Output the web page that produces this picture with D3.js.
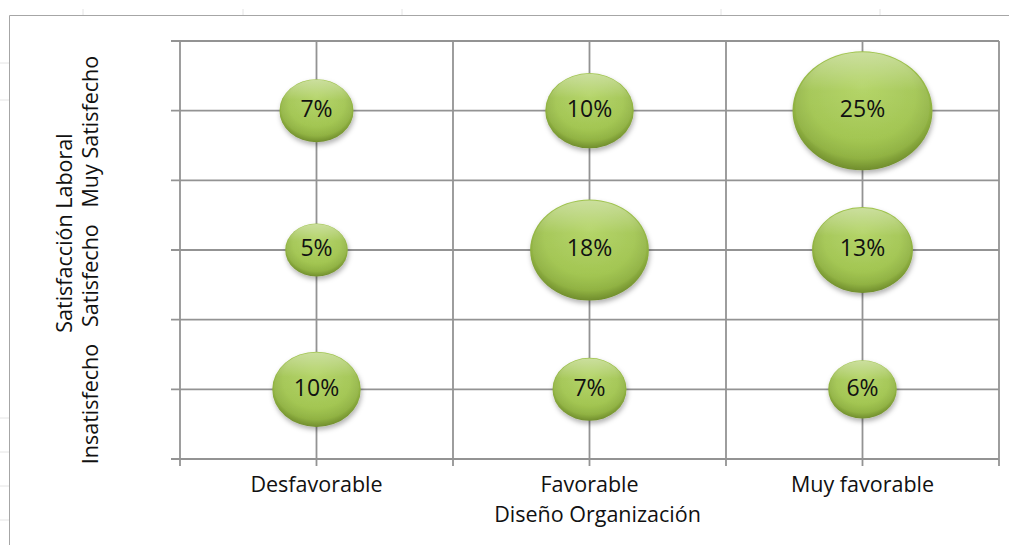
<!DOCTYPE html>
<html>
<head>
<meta charset="utf-8">
<script src="https://cdn.jsdelivr.net/npm/d3@7"></script>
<style>
  body { margin: 0; background: #fff; }
  svg { display: block; font-family: "Open Sans", sans-serif; }
</style>
</head>
<body>
<script>
var w = 1009;
var h = 545;

// categories and percentages (one array per column of the table)
var xCats = ["Desfavorable", "Favorable", "Muy favorable"];
var yCats = ["Insatisfecho", "Satisfecho", "Muy Satisfecho"];
var desfavorable = [10, 5, 7];
var favorable = [7, 18, 10];
var muyFavorable = [6, 13, 25];
var xTitle = "Diseño Organización";
var yTitle = "Satisfacción Laboral";

var columns = [desfavorable, favorable, muyFavorable];
var bubbles = [];
columns.forEach(function(col, i) {
    col.forEach(function(v, j) {
        bubbles.push({x: i + 1, y: j + 1, v: v});
    });
});

var svg = d3.select("body").append("svg")
    .attr("width", w)
    .attr("height", h);

// faint sheet cells behind the chart object
var sheetCols = [83, 243, 402, 721, 880];
var sheetRows = [63, 100, 418, 452, 486, 520];
svg.selectAll(".scol").data(sheetCols).enter().append("line")
    .attr("x1", function(d) { return d; }).attr("x2", function(d) { return d; })
    .attr("y1", 9).attr("y2", 15)
    .attr("stroke", "#e4e4e4");
svg.selectAll(".srow").data(sheetRows).enter().append("line")
    .attr("y1", function(d) { return d; }).attr("y2", function(d) { return d; })
    .attr("x1", 0).attr("x2", 9)
    .attr("stroke", "#e4e4e4");

// chart frame
svg.append("path")
    .attr("d", "M9.5," + h + "V15.5H" + w)
    .attr("fill", "none")
    .attr("stroke", "#a6a6a6");

var x = d3.scaleLinear().domain([0.5, 3.5]).range([180, 999]);
var y = d3.scaleLinear().domain([0.5, 3.5]).range([459, 41]);
var rx = d3.scaleSqrt().domain([0, 25]).range([0, 70]);
var squash = 0.85;

var gridVals = d3.range(0.5, 3.51, 0.5);
var grid = svg.append("g").attr("stroke", "#939393").attr("stroke-width", 1.8);

grid.selectAll(".gx").data(gridVals).enter().append("line")
    .attr("x1", function(d) { return x(d); }).attr("x2", function(d) { return x(d); })
    .attr("y1", y(3.5)).attr("y2", 466);
grid.selectAll(".gy").data(gridVals).enter().append("line")
    .attr("y1", function(d) { return y(d); }).attr("y2", function(d) { return y(d); })
    .attr("x1", 171).attr("x2", x(3.5));

// bubble shading
var defs = svg.append("defs");
var rg = defs.append("radialGradient").attr("id", "ball")
    .attr("cx", "50%").attr("cy", "42%").attr("r", "58%")
    .attr("fx", "50%").attr("fy", "30%");
rg.append("stop").attr("offset", "0%").attr("stop-color", "#aed15c");
rg.append("stop").attr("offset", "65%").attr("stop-color", "#a0c44e");
rg.append("stop").attr("offset", "86%").attr("stop-color", "#90b242");
rg.append("stop").attr("offset", "100%").attr("stop-color", "#708d2d");

var hl = defs.append("linearGradient").attr("id", "shine")
    .attr("x1", 0).attr("y1", 0).attr("x2", 0).attr("y2", 1);
hl.append("stop").attr("offset", "0%").attr("stop-color", "#fff").attr("stop-opacity", 0.45);
hl.append("stop").attr("offset", "35%").attr("stop-color", "#fff").attr("stop-opacity", 0.08);
hl.append("stop").attr("offset", "100%").attr("stop-color", "#fff").attr("stop-opacity", 0);

var sh = defs.append("filter").attr("id", "shadow")
    .attr("x", "-20%").attr("y", "-20%").attr("width", "140%").attr("height", "150%");
sh.append("feDropShadow").attr("dx", 1).attr("dy", 3).attr("stdDeviation", 2.5)
    .attr("flood-color", "#000").attr("flood-opacity", 0.3);

var bg = svg.selectAll(".bubble").data(bubbles).enter().append("g")
    .attr("transform", function(d) { return "translate(" + x(d.x) + "," + y(d.y) + ")"; });

bg.append("ellipse")
    .attr("rx", function(d) { return rx(d.v); })
    .attr("ry", function(d) { return rx(d.v) * squash; })
    .attr("fill", "url(#ball)")
    .attr("filter", "url(#shadow)");

bg.append("ellipse")
    .attr("cy", function(d) { return -rx(d.v) * squash * 0.06; })
    .attr("rx", function(d) { return rx(d.v) * 0.96; })
    .attr("ry", function(d) { return rx(d.v) * squash * 0.92; })
    .attr("fill", "url(#shine)");

bg.append("text")
    .attr("text-anchor", "middle")
    .attr("y", -2)
    .attr("dy", "0.36em")
    .attr("font-size", 23)
    .attr("fill", "#111")
    .text(function(d) { return d.v + "%"; });

// category labels and titles
svg.selectAll(".xl").data(xCats).enter().append("text")
    .attr("x", function(d, i) { return x(i + 1); })
    .attr("y", 492)
    .attr("text-anchor", "middle")
    .attr("font-size", 21.5)
    .attr("fill", "#111")
    .text(function(d) { return d; });

svg.append("text")
    .attr("x", x(2) + 8)
    .attr("y", 522)
    .attr("text-anchor", "middle")
    .attr("font-size", 21.5)
    .attr("fill", "#111")
    .text(xTitle);

svg.append("text")
    .attr("transform", "translate(72,233) rotate(-90)")
    .attr("text-anchor", "middle")
    .attr("font-size", 21.5)
    .attr("fill", "#111")
    .text(yTitle);

svg.append("text")
    .attr("transform", "translate(98,260) rotate(-90)")
    .attr("text-anchor", "middle")
    .attr("font-size", 21.5)
    .attr("fill", "#111")
    .style("white-space", "pre")
    .text(yCats.join("   "));
</script>
</body>
</html>
